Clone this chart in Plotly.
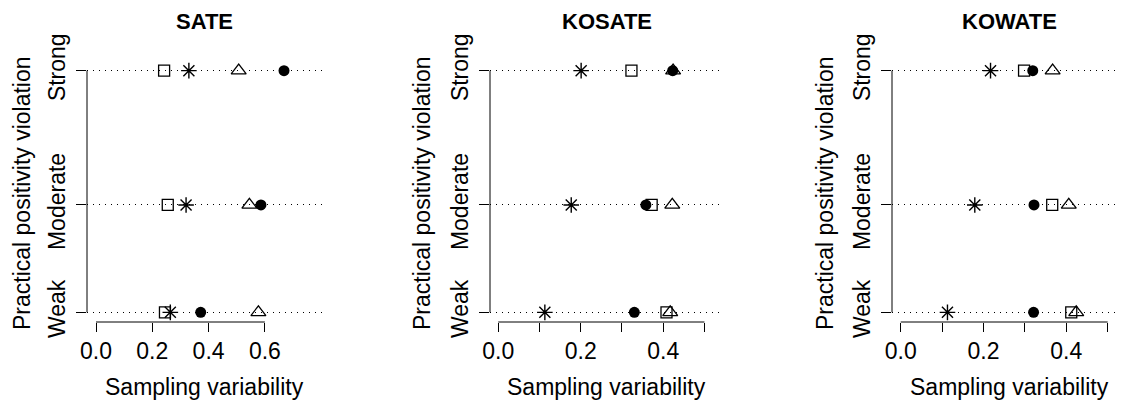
import plotly.graph_objects as go

# ---------------- data ----------------
panel_titles = ["SATE", "KOSATE", "KOWATE"]
level_labels = ["Weak", "Moderate", "Strong"]
violation_level = [1, 5, 10]  # numeric position of each violation level

# values ordered Weak, Moderate, Strong
sate_square = [0.245, 0.255, 0.242]
sate_asterisk = [0.264, 0.320, 0.330]
sate_triangle = [0.577, 0.545, 0.507]
sate_circle = [0.372, 0.586, 0.668]

kosate_square = [0.408, 0.372, 0.323]
kosate_asterisk = [0.113, 0.177, 0.201]
kosate_triangle = [0.417, 0.422, 0.424]
kosate_circle = [0.330, 0.358, 0.423]

kowate_square = [0.412, 0.366, 0.298]
kowate_asterisk = [0.113, 0.179, 0.217]
kowate_triangle = [0.424, 0.406, 0.367]
kowate_circle = [0.321, 0.322, 0.319]

sate_ticks = [0.0, 0.2, 0.4, 0.6]
sate_ticktext = ["0.0", "0.2", "0.4", "0.6"]
ko_ticks = [0.0, 0.1, 0.2, 0.3, 0.4, 0.5]
ko_ticktext = ["0.0", "", "0.2", "", "0.4", ""]

x_label = "Sampling variability"
y_label = "Practical positivity violation"

# ---------------- layout helpers ----------------
W, H = 1123, 406
OFF = 8  # page body margin offset
FONT = "Liberation Sans, Arial, Helvetica, sans-serif"
FS = 23

panels = [
    dict(sq=sate_square, ast=sate_asterisk, tri=sate_triangle, cir=sate_circle,
         ticks=sate_ticks, ticktext=sate_ticktext, rng=[-0.032, 0.803],
         px=(87, 322), ylab_x=22),
    dict(sq=kosate_square, ast=kosate_asterisk, tri=kosate_triangle, cir=kosate_circle,
         ticks=ko_ticks, ticktext=ko_ticktext, rng=[-0.020, 0.545],
         px=(490, 723), ylab_x=422),
    dict(sq=kowate_square, ast=kowate_asterisk, tri=kowate_triangle, cir=kowate_circle,
         ticks=ko_ticks, ticktext=ko_ticktext, rng=[-0.021, 0.537],
         px=(892, 1123), ylab_x=825),
]
title_centers = [204.5, 606.5, 1009.5]


def fx(px):
    return (px - OFF) / W


def fy(py):
    return (H - (py - OFF)) / H


plot_top, plot_bottom = 61, 322
ydom = [fy(plot_bottom), fy(plot_top)]

fig = go.Figure()
shapes = []
annotations = []

for i, p in enumerate(panels):
    n = i + 1
    xa = "x" if n == 1 else f"x{n}"
    ya = "y" if n == 1 else f"y{n}"
    common = dict(xaxis=xa, yaxis=ya, mode="markers", showlegend=False,
                  hoverinfo="x+y", cliponaxis=False)
    fig.add_trace(go.Scatter(x=p["sq"], y=violation_level,
                             marker=dict(symbol="square-open", size=11, color="black",
                                         line=dict(width=1.3, color="black")), **common))
    fig.add_trace(go.Scatter(x=p["ast"], y=violation_level,
                             marker=dict(symbol="asterisk-open", size=13, color="black",
                                         line=dict(width=1.4, color="black")), **common))
    fig.add_trace(go.Scatter(x=p["tri"], y=violation_level,
                             marker=dict(symbol="triangle-up-open", size=13, color="black",
                                         line=dict(width=1.3, color="black")), **common))
    fig.add_trace(go.Scatter(x=p["cir"], y=violation_level,
                             marker=dict(symbol="circle", size=11, color="black",
                                         line=dict(width=0)), **common))

    x0, x1 = p["px"]
    rng = list(p["rng"])
    # if the panel runs off the right edge, trim range accordingly
    right_px = min(x1, W + OFF)
    scale = (rng[1] - rng[0]) / (x1 - x0)
    rng[1] = rng[0] + (right_px - x0) * scale
    xdom = [fx(x0), min(1.0, fx(right_px))]
    xkey = "xaxis" if n == 1 else f"xaxis{n}"
    ykey = "yaxis" if n == 1 else f"yaxis{n}"
    fig.update_layout(**{
        xkey: dict(domain=xdom, range=rng, anchor=ya, showgrid=False,
                   automargin=False,
                   zeroline=False, showline=False, ticks="outside", ticklen=9,
                   tickwidth=1, tickcolor="black", tickvals=p["ticks"],
                   ticktext=p["ticktext"], ticklabelstandoff=-1,
                   tickfont=dict(family=FONT, size=FS, color="black")),
        ykey: dict(domain=ydom, range=[0.64, 10.36], anchor=xa, showgrid=True,
                   automargin=False,
                   gridcolor="black", gridwidth=1, griddash="1px,5px",
                   zeroline=False, showline=False, ticks="outside", ticklen=10,
                   tickwidth=1, tickcolor="black", tickvals=violation_level,
                   ticktext=level_labels, tickangle=-90, ticklabelstandoff=2,
                   tickfont=dict(family=FONT, size=FS, color="black")),
    })

    # axis lines spanning only the tick range (R style)
    shapes.append(dict(type="line", xref=xa, yref=f"{ya} domain",
                       x0=p["ticks"][0], x1=p["ticks"][-1], y0=0, y1=0,
                       line=dict(color="black", width=1)))
    shapes.append(dict(type="line", xref=f"{xa} domain", yref=ya,
                       x0=0, x1=0, y0=violation_level[0], y1=violation_level[-1],
                       line=dict(color="black", width=1)))

    cx = fx(title_centers[i])
    annotations.append(dict(text=f"<b>{panel_titles[i]}</b>", xref="paper", yref="paper",
                            x=cx, y=fy(21), xanchor="center", yanchor="middle",
                            showarrow=False, font=dict(family=FONT, size=22, color="black")))
    annotations.append(dict(text=x_label, xref="paper", yref="paper",
                            x=cx, y=fy(387), xanchor="center", yanchor="middle",
                            showarrow=False, font=dict(family=FONT, size=FS, color="black")))
    annotations.append(dict(text=y_label, xref="paper", yref="paper",
                            x=fx(p["ylab_x"]), y=fy(193), xanchor="center",
                            yanchor="middle", textangle=-90, showarrow=False,
                            font=dict(family=FONT, size=FS, color="black")))

fig.update_layout(
    width=W, height=H,
    margin=dict(l=0, r=0, t=0, b=0, autoexpand=False),
    paper_bgcolor="white", plot_bgcolor="white",
    shapes=shapes, annotations=annotations,
)

fig.write_html("out.html")
